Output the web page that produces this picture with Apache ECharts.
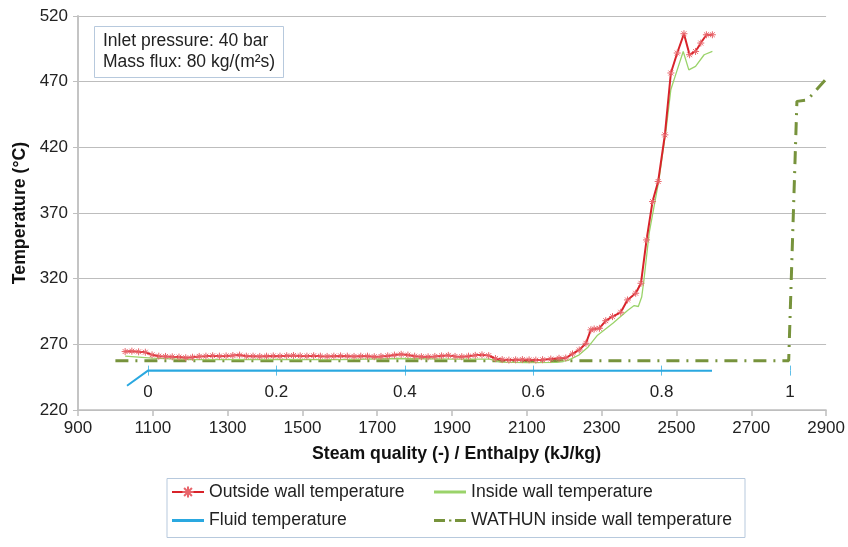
<!DOCTYPE html>
<html><head><meta charset="utf-8">
<script src="https://cdn.jsdelivr.net/npm/echarts@6/dist/echarts.min.js"></script>
<style>html,body{margin:0;padding:0;background:#fff}#c{width:848px;height:547px}</style>
</head><body><div id="c"></div>
<script>
// ---- data ----
const enthalpyTicks = [900,1100,1300,1500,1700,1900,2100,2300,2500,2700,2900];
const temperatureTicks = [220,270,320,370,420,470,520];
const qualityTicks = [0,0.2,0.4,0.6,0.8,1];
const qualityLabels = ['0','0.2','0.4','0.6','0.8','1'];

const outsideH = [1026,1044,1062,1080,1098,1116,1134,1152,1170,1188,1206,1224,1242,1260,1278,1296,1314,1332,1350,1368,1386,1404,1422,1440,1458,1476,1494,1512,1530,1548,1566,1584,1602,1620,1638,1656,1674,1692,1710,1728,1746,1764,1782,1800,1818,1836,1854,1872,1890,1908,1926,1944,1962,1980,1998,2016,2034,2052,2070,2088,2106,2124,2142,2164,2186,2204,2222,2240,2258,2271,2280,2294,2311,2329,2351,2369,2391,2405,2420,2436,2451,2469,2485,2502,2520,2535,2551,2565,2580,2596];
const outsideT = [264.5,264.8,264.3,264.0,262.0,261.0,260.8,260.5,260.3,259.8,260.2,260.8,261.0,261.3,261.0,261.2,261.5,261.8,261.0,261.0,260.8,261.0,261.2,261.0,261.3,261.5,261.2,261.0,261.3,261.0,260.8,261.0,261.2,261.0,260.8,261.0,261.0,260.6,260.8,261.2,261.8,262.4,261.8,261.0,260.6,260.5,260.8,261.2,261.6,260.8,260.6,261.0,261.6,262.0,261.4,259.2,258.4,258.0,258.2,258.4,258.2,258.0,258.3,258.8,259.4,259.6,262.7,265.7,270.8,281.0,281.7,282.2,288.0,291.1,294.4,303.8,308.9,316.5,349.5,378.7,394.0,429.5,476.6,491.8,506.5,490.5,493.0,499.4,505.7,505.7];

const insideH = [1026,1098,1200,1400,1600,1760,1900,2000,2030,2100,2180,2210,2240,2264,2289,2330,2370,2387,2398,2407,2413,2427,2453,2472,2485,2502,2518,2533,2551,2574,2596];
const insideT = [261.0,259.5,258.3,258.6,258.4,259.2,258.8,258.8,256.4,256.0,256.2,257.8,262.0,268.0,277.0,286.0,296.0,299.5,298.8,306.0,319.0,354.7,395.0,433.0,464.0,479.0,493.0,479.0,481.6,490.5,493.0];

const fluidH = [1031,1087,2595];
const fluidT = [238.5,250.0,249.8];

const wathunH = [1000,2800,2822,2850,2897];
const wathunT = [257.5,257.5,455.0,456.0,471.0];

const seriesNames = ['Outside wall temperature','Inside wall temperature','Fluid temperature','WATHUN inside wall temperature'];
const noteLines = ['Inlet pressure: 40 bar','Mass flux: 80 kg/(m\u00b2s)'];
const xName = 'Steam quality (-) / Enthalpy (kJ/kg)';
const yName = 'Temperature (\u00b0C)';

// ---- helpers ----
const zip = (a,b) => a.map((v,i)=>[v,b[i]]);
const FONT = 'Liberation Sans, Arial, Helvetica, sans-serif';
// quality axis mapping: q=0 at 1086.8, q=1 at 2798.6 kJ/kg
const h0 = 1086.8, h1 = 2798.6;
const qMin = (900 - h0)/(h1 - h0), qMax = (2900 - h0)/(h1 - h0);
const tempAxisMark = 250; // quality axis sits on this temperature
const gridTop = 16, gridBottomPx = 410;
const pxPerDeg = (gridBottomPx - gridTop)/(520-220);
const qAxisY = gridBottomPx - (tempAxisMark-220)*pxPerDeg;

const asterisk = 'path://M5,0L5,10M0,5L10,5M1.5,1.5L8.5,8.5M8.5,1.5L1.5,8.5';
const solidIcon = 'path://M0,0h32v3h-32z';
const dashDotIcon = 'path://M0,0h11v3h-11zM15,0.4h2.4v2.2h-2.4zM21,0h11v3h-11z';

const chart = echarts.init(document.getElementById('c'), null, {renderer:'canvas'});
chart.setOption({
  animation:false,
  textStyle:{fontFamily:FONT},
  title:{
    text: noteLines.join('\n'),
    left: 94, top: 26,
    padding:[5,9,5,9],
    borderColor:'#b7c9dd', borderWidth:1,
    textStyle:{fontSize:17.5, fontWeight:'normal', color:'#222', lineHeight:21, fontFamily:FONT}
  },
  grid:[
    {left:78, right:20, top:gridTop, height: gridBottomPx-gridTop, containLabel:false},
    {left:78, right:20, top:gridTop, height: qAxisY-gridTop, containLabel:false}
  ],
  legend:[
    {data:[seriesNames[0], {name:seriesNames[2], icon:solidIcon}], orient:'vertical', left:171, top:483, padding:0,
     itemWidth:32, itemHeight:14, itemGap:10.5,
     textStyle:{fontSize:17.6, color:'#222', fontFamily:FONT}},
    {data:[{name:seriesNames[1], icon:solidIcon}, {name:seriesNames[3], icon:dashDotIcon}], orient:'vertical', left:434, top:483, padding:0,
     itemWidth:32, itemHeight:14, itemGap:10.5,
     textStyle:{fontSize:17.6, color:'#222', fontFamily:FONT}}
  ],
  graphic:[
    {type:'rect', left:164.5, top:476, shape:{width:578, height:59}, style:{fill:'none', stroke:'#b7c9dd', lineWidth:1}, silent:true}
  ],
  xAxis:[
    {type:'value', gridIndex:0, min:enthalpyTicks[0], max:enthalpyTicks[enthalpyTicks.length-1], interval:200,
     name:xName, nameLocation:'middle', nameGap:35,
     nameTextStyle:{fontSize:17.7, fontWeight:'bold', color:'#111', fontFamily:FONT, padding:[0,0,0,9]},
     axisLine:{show:true, lineStyle:{color:'#bfbfbf', width:1.5}},
     axisTick:{show:true, length:6, lineStyle:{color:'#bfbfbf', width:1.5}},
     axisLabel:{fontSize:17, color:'#222', margin:10, fontFamily:FONT, formatter:(v)=>String(v)},
     splitLine:{show:false}},
    {type:'value', gridIndex:1, min:qMin, max:qMax, position:'bottom',
     axisLine:{show:false},
     axisTick:{show:true, inside:false, length:5, customValues:qualityTicks, lineStyle:{color:'#5fbfe8', width:1}},
     axisLabel:{show:true, customValues:qualityTicks, fontSize:17, color:'#222', margin:13, fontFamily:FONT,
       formatter:(v)=>{const i=qualityTicks.findIndex(t=>Math.abs(t-v)<1e-6); return i>=0?qualityLabels[i]:'';}},
     splitLine:{show:false}},
    {type:'value', gridIndex:1, min:qMin, max:qMax, position:'bottom',
     axisLine:{show:false},
     axisTick:{show:true, inside:true, length:5, customValues:qualityTicks, lineStyle:{color:'#5fbfe8', width:1}},
     axisLabel:{show:false},
     splitLine:{show:false}}
  ],
  yAxis:[
    {type:'value', gridIndex:0, min:temperatureTicks[0], max:temperatureTicks[temperatureTicks.length-1], interval:50,
     name:yName, nameLocation:'middle', nameGap:49, nameRotate:90,
     nameTextStyle:{fontSize:17.7, fontWeight:'bold', color:'#111', fontFamily:FONT},
     axisLine:{show:true, lineStyle:{color:'#c4c4c4', width:2}},
     axisTick:{show:true, length:5, lineStyle:{color:'#bfbfbf'}},
     axisLabel:{fontSize:17, color:'#222', margin:10, fontFamily:FONT},
     splitLine:{show:true, lineStyle:{color:'#bdbdbd', width:1}}},
    {type:'value', gridIndex:1, min:0, max:1, show:false}
  ],
  series:[
    {name:seriesNames[1], type:'line', xAxisIndex:0, yAxisIndex:0, data:zip(insideH, insideT),
     showSymbol:false, symbol:'none', color:'#9ad36a', lineStyle:{color:'#9ad36a', width:1.3}, z:3},
    {name:seriesNames[2], type:'line', xAxisIndex:0, yAxisIndex:0, data:zip(fluidH, fluidT),
     showSymbol:false, symbol:'none', color:'#2aa8e0', lineStyle:{color:'#2aa8e0', width:2}, z:2},
    {name:seriesNames[3], type:'line', xAxisIndex:0, yAxisIndex:0, data:zip(wathunH, wathunT),
     showSymbol:false, symbol:'none', color:'#77933c', lineStyle:{color:'#77933c', width:3, type:[13,7,2,7]}, z:2},
    {name:seriesNames[0], type:'line', xAxisIndex:0, yAxisIndex:0, data:zip(outsideH, outsideT),
     symbol:asterisk, symbolSize:7, showSymbol:true, showAllSymbol:true, color:'#d8232a',
     itemStyle:{color:'rgba(0,0,0,0)', borderColor:'#e8656b', borderWidth:1},
     lineStyle:{color:'#d8232a', width:2}, z:4}
  ]
});
</script></body></html>
